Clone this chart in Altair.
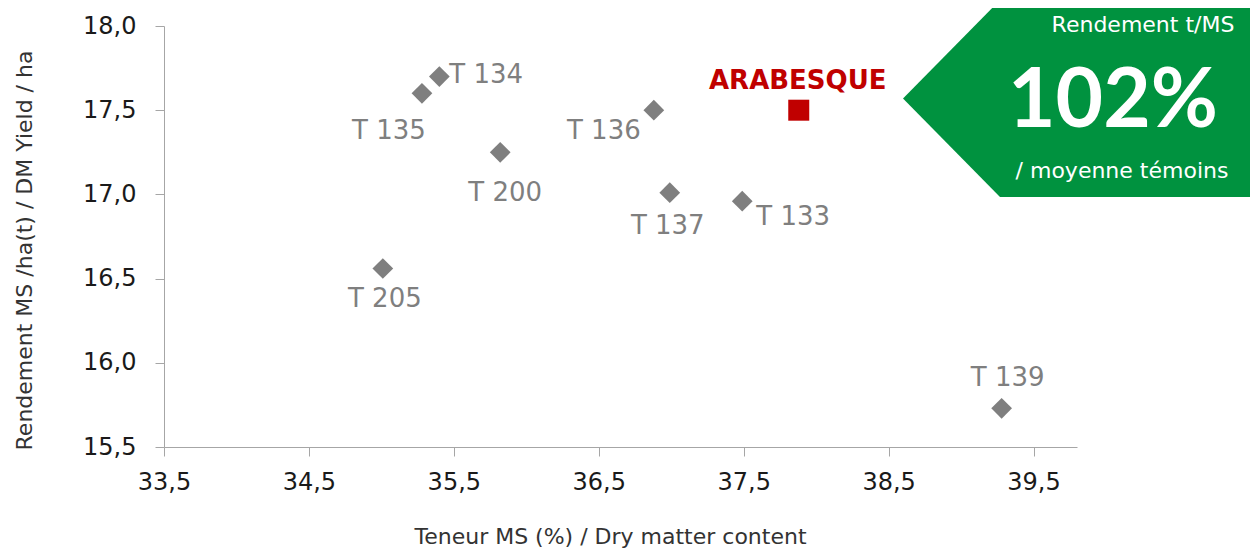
import altair as alt
import pandas as pd

# ---- data ----
names = ["T 134", "T 135", "T 200", "T 205", "T 136", "T 137", "T 133", "T 139"]
dry_matter = [35.40, 35.28, 35.82, 35.01, 36.88, 36.99, 37.49, 39.28]
dm_yield = [17.70, 17.60, 17.25, 16.56, 17.50, 17.01, 16.96, 15.73]

hero_name = ["ARABESQUE"]
hero_dm = [37.88]
hero_yield = [17.50]

x_ticks = [33.5, 34.5, 35.5, 36.5, 37.5, 38.5, 39.5]
y_ticks = [15.5, 16.0, 16.5, 17.0, 17.5, 18.0]

badge_title = "Rendement t/MS"
badge_value = "102%"
badge_sub = "/ moyenne  témoins"

# ---- styling ----
FONT = "DejaVu Sans"
GRAY = "#7f7f7f"
GREEN = "#00923f"
RED = "#c00000"
W, H = 913, 421

# label offsets (pixels) per name: (dx, dy, align)
label_pos = {
    "T 134": (10, -2, "left"),
    "T 135": (-33, 38, "center"),
    "T 200": (5, 41, "center"),
    "T 205": (2, 31, "center"),
    "T 136": (-50, 21, "center"),
    "T 137": (-2, 33, "center"),
    "T 133": (14, 16, "left"),
    "T 139": (6, -30, "center"),
}

df = pd.DataFrame({"name": names, "dm": dry_matter, "yld": dm_yield})
hero = pd.DataFrame({"name": hero_name, "dm": hero_dm, "yld": hero_yield})
one = pd.DataFrame({"a": [0]})

fmt = "replace(format(datum.value, '.1f'), '.', ',')"

xenc = alt.X(
    "dm:Q",
    scale=alt.Scale(domain=[33.5, 39.8], nice=False, zero=False),
    axis=alt.Axis(
        values=x_ticks, labelExpr=fmt, grid=False, labelFlush=False, labelPadding=14,
        title="Teneur MS (%) / Dry matter content",
        titleX=446, titleY=89, titleBaseline="middle", titleAlign="center",
    ),
)
yenc = alt.Y(
    "yld:Q",
    scale=alt.Scale(domain=[15.5, 18.0], nice=False, zero=False),
    axis=alt.Axis(
        values=y_ticks, labelExpr=fmt, grid=False, labelFlush=False, labelPadding=19,
        title="Rendement MS /ha(t)  / DM Yield / ha",
        titleX=-140, titleY=224, titleAngle=270, titleBaseline="middle", titleAlign="center",
    ),
)

points = alt.Chart(df).mark_point(
    shape="diamond", filled=True, size=430, color=GRAY, opacity=1
).encode(x=xenc, y=yenc)

hero_pt = alt.Chart(hero).mark_point(
    shape="square", filled=True, size=441, color=RED, opacity=1
).encode(x="dm:Q", y="yld:Q")

hero_lbl = alt.Chart(hero).mark_text(
    font=FONT, fontSize=26, fontWeight="bold", color=RED, dx=-1, dy=-29,
    align="center", baseline="middle"
).encode(x="dm:Q", y="yld:Q", text="name:N")

label_layers = []
for n, (dx, dy, al) in label_pos.items():
    label_layers.append(
        alt.Chart(df).transform_filter(alt.datum.name == n).mark_text(
            font=FONT, fontSize=26, color=GRAY, dx=dx, dy=dy, align=al, baseline="middle"
        ).encode(x="dm:Q", y="yld:Q", text="name:N")
    )

# badge (decoration)
badge_path = "M -1 0 L -0.455 -0.553 L 1 -0.553 L 1 0.553 L -0.455 0.553 Z"
badge = alt.Chart(one).mark_point(
    shape=badge_path, filled=True, size=356 * 356, color=GREEN, opacity=1, strokeWidth=0
).encode(x=alt.value(917), y=alt.value(72.5))

badge_t1 = alt.Chart(one).mark_text(
    font=FONT, fontSize=22, color="white", align="center", baseline="middle"
).encode(x=alt.value(979), y=alt.value(-1), text=alt.value(badge_title))
badge_t2 = alt.Chart(one).mark_text(
    font="Lato", fontSize=82, fontWeight="bold", color="white", align="center", baseline="middle"
).encode(x=alt.value(949), y=alt.value(76), text=alt.value(badge_value))
badge_t3 = alt.Chart(one).mark_text(
    font=FONT, fontSize=22, color="white", align="center", baseline="middle"
).encode(x=alt.value(958), y=alt.value(145), text=alt.value(badge_sub))

chart = alt.layer(
    badge, badge_t1, badge_t2, badge_t3, points, *label_layers, hero_pt, hero_lbl
).properties(
    width=W, height=H,
    autosize=alt.AutoSizeParams(type="none"),
    padding={"left": 156, "top": 18, "right": 173, "bottom": 105},
).configure_view(stroke=None).configure_axis(
    domainColor="#a6a6a6", tickColor="#a6a6a6", tickSize=9,
    labelFont=FONT, labelFontSize=24, labelColor="#1a1a1a",
    titleFont=FONT, titleFontSize=22, titleColor="#333333", titleFontWeight="normal",
)

chart.save("out.html", embed_options={"renderer": "svg", "actions": False})
